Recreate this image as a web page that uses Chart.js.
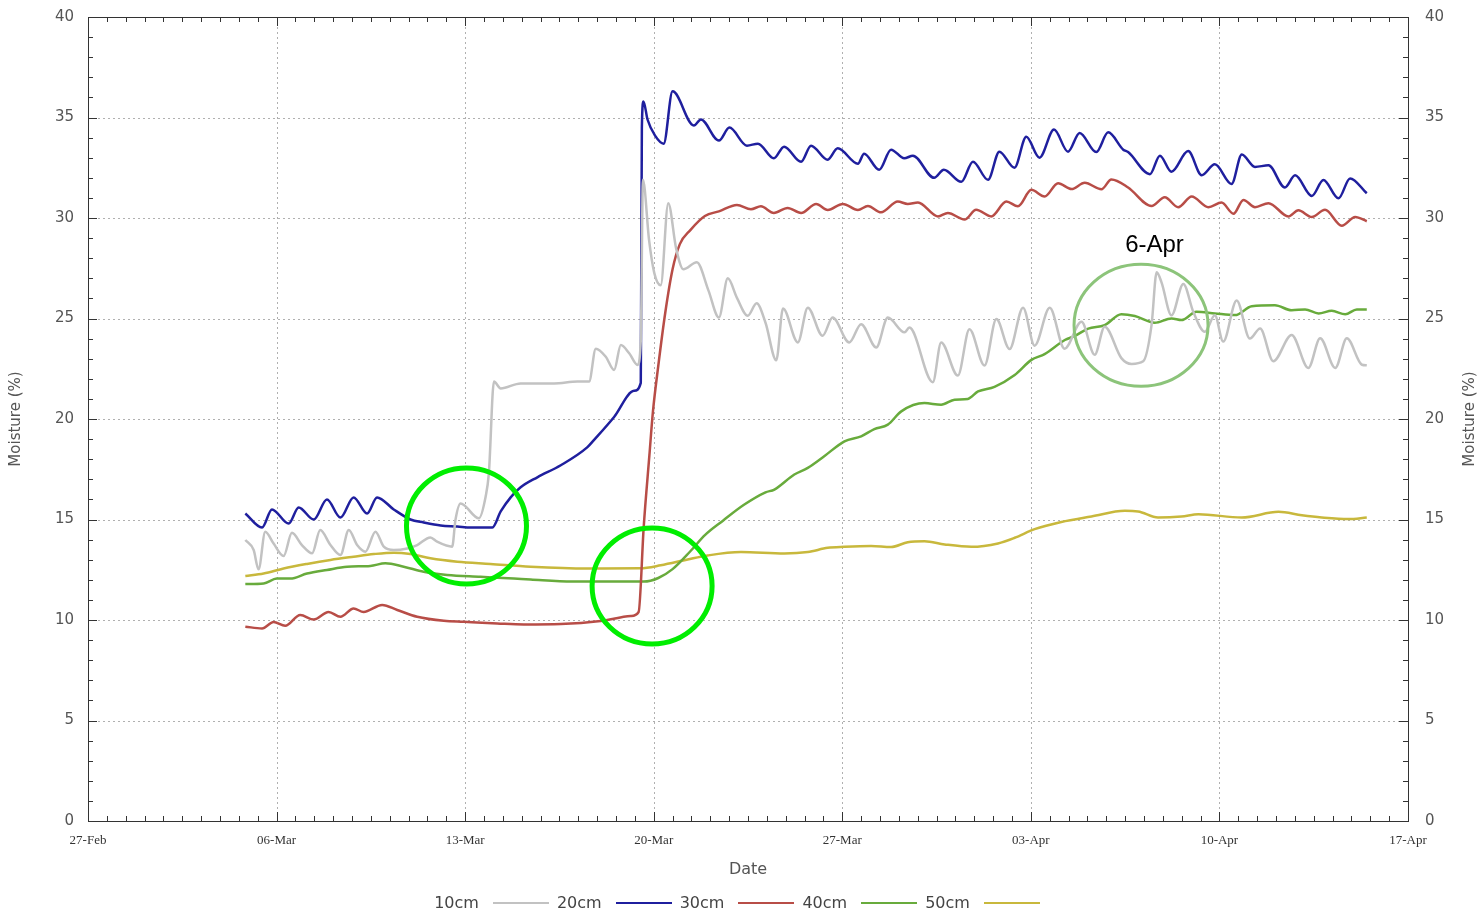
<!DOCTYPE html>
<html>
<head>
<meta charset="utf-8">
<script src="https://cdn.jsdelivr.net/npm/chart.js@4.4.1/dist/chart.umd.min.js"></script>
<style>
  html, body { margin: 0; padding: 0; background: #fff; }
  #wrap { position: relative; width: 1482px; height: 913px; }
  #myChart { display: block; }
  #legend { position: absolute; left: 0; top: 893px; width: 1482px; display: flex; justify-content: center;
            font: 16px "DejaVu Sans", sans-serif; color: #444; line-height: 20px; }
  #legend .item { display: flex; align-items: center; margin-right: 8px; }
  #legend .ln { display: inline-block; width: 56px; height: 2px; margin-left: 14px; }
</style>
</head>
<body>
<div id="wrap">
  <canvas id="myChart" width="1482" height="913"></canvas>
  <div id="legend"></div>
</div>
<script>
// days since 27-Feb, moisture %
const xLabels = ["27-Feb","06-Mar","13-Mar","20-Mar","27-Mar","03-Apr","10-Apr","17-Apr"];
const names = ["10cm","20cm","30cm","40cm","50cm"];
const colors = ["#c2c2c2","#1f1f9e","#b84d47","#68ab3c","#c8b83c"];

const d10 = [[5.84,13.98],[6.15,13.48],[6.33,12.52],[6.58,14.39],[6.89,13.8],[7.26,13.18],[7.57,14.34],[7.94,13.73],[8.32,13.32],[8.62,14.48],[9.0,13.73],[9.37,13.23],[9.68,14.48],[9.99,13.73],[10.3,13.4],[10.67,14.39],[10.98,13.65],[11.35,13.48],[11.85,13.56],[12.22,13.73],[12.71,14.11],[12.96,13.9],[13.52,13.65],[13.64,14.98],[13.83,15.8],[14.51,15.06],[14.76,16.13],[14.88,17.29],[15.07,21.86],[15.32,21.52],[16.06,21.77],[17.3,21.77],[18.17,21.86],[18.6,21.86],[18.85,23.5],[19.22,23.1],[19.53,22.44],[19.78,23.68],[20.09,23.27],[20.4,22.69],[20.52,23.9],[20.6,31.9],[20.83,28.87],[21.02,27.27],[21.26,26.65],[21.54,30.74],[21.83,28.5],[22.1,27.45],[22.6,27.8],[23.03,26.4],[23.42,25.05],[23.75,27.0],[24.09,26.03],[24.49,25.14],[24.82,25.76],[25.15,24.79],[25.55,22.92],[25.8,25.5],[26.35,23.81],[26.72,25.54],[27.27,24.14],[27.64,25.05],[28.26,23.81],[28.7,24.72],[29.26,23.56],[29.69,25.05],[30.31,24.31],[30.49,24.55],[31.36,21.83],[31.67,23.81],[32.29,22.16],[32.72,24.47],[33.28,22.66],[33.72,24.97],[34.21,23.48],[34.71,25.54],[35.14,23.65],[35.7,25.54],[36.25,23.5],[36.88,24.84],[37.37,23.2],[37.74,24.59],[38.36,23.03],[38.74,22.74],[39.17,22.87],[39.48,24.67],[39.67,27.3],[39.85,26.8],[40.22,25.16],[40.66,26.72],[41.03,25.33],[41.46,24.34],[41.83,25.16],[42.14,23.85],[42.64,25.9],[43.13,24.0],[43.51,24.5],[44.0,22.87],[44.68,24.18],[45.3,22.54],[45.74,24.02],[46.3,22.54],[46.73,24.02],[47.29,22.7],[47.47,22.67]];

const d20 = [[5.84,15.3],[6.46,14.6],[6.83,15.5],[7.45,14.8],[7.82,15.6],[8.38,15.0],[8.87,16.0],[9.37,15.1],[9.86,16.1],[10.36,15.3],[10.73,16.1],[11.35,15.5],[11.97,15.0],[12.46,14.85],[13.09,14.7],[13.71,14.65],[14.2,14.6],[15.01,14.6],[15.32,15.4],[15.69,16.1],[16.06,16.6],[16.68,17.1],[17.55,17.7],[18.54,18.6],[18.78,18.95],[19.53,20.1],[20.27,21.4],[20.52,21.8],[20.56,34.5],[20.62,35.8],[20.77,34.9],[21.05,34.1],[21.37,33.7],[21.7,36.3],[22.49,34.6],[22.75,34.9],[23.42,33.85],[23.81,34.5],[24.46,33.6],[24.87,33.7],[25.46,32.97],[25.84,33.55],[26.47,32.8],[26.84,33.6],[27.46,32.9],[27.83,33.47],[28.58,32.7],[28.81,33.2],[29.37,32.4],[29.81,33.4],[30.3,32.97],[30.62,33.1],[31.41,32.0],[31.77,32.4],[32.42,31.8],[32.85,32.8],[33.41,31.9],[33.83,33.3],[34.39,32.5],[34.83,34.04],[35.32,33.0],[35.86,34.4],[36.38,33.3],[36.81,34.23],[37.43,33.28],[37.87,34.26],[38.43,33.4],[38.61,33.28],[39.42,32.18],[39.79,33.1],[40.22,32.3],[40.84,33.33],[41.34,32.13],[41.83,32.67],[42.45,31.69],[42.83,33.16],[43.32,32.54],[43.82,32.62],[44.43,31.52],[44.81,32.13],[45.43,31.1],[45.86,31.89],[46.42,30.98],[46.85,31.97],[47.47,31.23]];

const d30 = [[5.84,9.67],[6.46,9.58],[6.89,9.9],[7.32,9.71],[7.88,10.25],[8.38,10.02],[8.93,10.4],[9.37,10.16],[9.86,10.57],[10.23,10.4],[10.92,10.75],[11.48,10.5],[12.22,10.16],[13.21,9.96],[13.95,9.91],[15.19,9.83],[16.18,9.78],[17.55,9.8],[19.03,9.95],[20.15,10.2],[20.44,10.4],[20.63,14.66],[20.84,18.2],[20.97,20.35],[21.17,22.65],[21.43,25.3],[21.7,27.45],[21.97,28.7],[22.36,29.4],[22.9,30.1],[23.42,30.33],[24.09,30.65],[24.61,30.44],[24.98,30.58],[25.46,30.25],[25.97,30.5],[26.47,30.25],[27.03,30.7],[27.46,30.4],[28.02,30.7],[28.58,30.4],[28.95,30.6],[29.44,30.28],[30.06,30.82],[30.43,30.7],[30.81,30.77],[31.55,30.08],[31.92,30.25],[32.54,29.92],[32.97,30.41],[33.53,30.08],[34.09,30.82],[34.52,30.58],[35.02,31.4],[35.51,31.07],[36.01,31.73],[36.51,31.44],[37.0,31.75],[37.62,31.43],[37.99,31.92],[38.61,31.52],[39.48,30.6],[39.97,31.03],[40.47,30.54],[40.97,31.07],[41.59,30.54],[42.08,30.77],[42.52,30.21],[42.89,30.9],[43.32,30.54],[43.82,30.74],[44.56,30.08],[44.93,30.38],[45.43,30.05],[45.92,30.41],[46.54,29.62],[47.04,30.05],[47.47,29.84]];

const d40 = [[5.84,11.79],[6.52,11.82],[7.01,12.06],[7.51,12.06],[8.13,12.31],[8.87,12.49],[9.62,12.65],[10.48,12.69],[11.04,12.82],[11.72,12.65],[12.46,12.4],[13.33,12.24],[14.57,12.15],[15.81,12.06],[16.43,12.01],[17.98,11.91],[20.63,11.91],[21.17,12.09],[21.7,12.53],[22.36,13.42],[22.9,14.22],[23.56,14.93],[24.35,15.73],[25.15,16.35],[25.48,16.49],[26.22,17.24],[26.72,17.57],[27.33,18.15],[28.08,18.89],[28.7,19.14],[29.19,19.5],[29.69,19.72],[30.19,20.38],[31.05,20.79],[31.67,20.71],[32.17,20.96],[32.66,21.0],[33.04,21.37],[33.65,21.6],[34.4,22.19],[35.02,22.94],[35.51,23.23],[36.26,23.93],[36.63,24.13],[37.13,24.5],[37.74,24.67],[38.36,25.21],[38.86,25.12],[39.6,24.79],[40.22,25.0],[40.59,24.92],[41.15,25.33],[41.83,25.25],[42.58,25.17],[43.2,25.61],[44.06,25.66],[44.68,25.41],[45.18,25.45],[45.68,25.25],[46.17,25.38],[46.67,25.21],[47.1,25.45],[47.47,25.45]];

const d50 = [[5.84,12.19],[6.52,12.31],[7.26,12.56],[8.13,12.79],[9.0,12.99],[9.86,13.15],[10.61,13.28],[11.35,13.35],[11.97,13.28],[12.71,13.07],[13.71,12.9],[14.94,12.79],[16.43,12.65],[18.54,12.56],[20.5,12.57],[21.26,12.72],[22.26,13.01],[23.0,13.21],[24.24,13.38],[25.85,13.31],[26.72,13.38],[27.46,13.59],[28.08,13.64],[29.07,13.68],[29.81,13.63],[30.43,13.87],[31.05,13.92],[31.8,13.76],[32.79,13.64],[33.78,13.81],[34.4,14.09],[35.14,14.52],[36.13,14.88],[37.25,15.15],[38.49,15.43],[38.98,15.4],[39.72,15.1],[40.59,15.15],[41.22,15.26],[42.83,15.1],[44.19,15.38],[45.06,15.21],[45.8,15.1],[46.79,15.02],[47.47,15.1]];

// highlight rings: [day, value, rx px, ry px, colour, width]
const rings = [[14.05,14.68,60,58,"#00ee00",5],[20.94,11.69,60,58,"#00ee00",5],[39.09,24.66,67,61,"#8cc47a",3]];
const note = ["6-Apr", 39.59, 28.66];

const series = [d10, d20, d30, d40, d50];
const toXY = a => a.map(p => ({x: p[0], y: p[1]}));

const sans = "'DejaVu Sans', sans-serif";

const decor = {
  id: "decor",
  beforeDatasetsDraw(chart) {
    const {ctx, chartArea: a, scales: {x, y}} = chart;
    ctx.save();
    ctx.strokeStyle = "#b0b0b0";
    ctx.lineWidth = 1;
    ctx.setLineDash([2, 3]);
    for (let v = 5; v < 40; v += 5) {
      const py = Math.round(y.getPixelForValue(v)) + 0.5;
      ctx.beginPath(); ctx.moveTo(a.left, py); ctx.lineTo(a.right, py); ctx.stroke();
    }
    for (let d = 7; d < 49; d += 7) {
      const px = Math.round(x.getPixelForValue(d)) + 0.5;
      ctx.beginPath(); ctx.moveTo(px, a.top); ctx.lineTo(px, a.bottom); ctx.stroke();
    }
    ctx.restore();
  },
  afterDatasetsDraw(chart) {
    const {ctx, chartArea: a, scales: {x, y}} = chart;
    ctx.save();
    ctx.strokeStyle = "#333";
    ctx.lineWidth = 1;
    ctx.strokeRect(a.left + 0.5, a.top + 0.5, a.right - a.left, a.bottom - a.top);
    // inward ticks
    for (let v = 0; v <= 40; v++) {
      const len = v % 5 === 0 ? 9 : 5;
      const py = Math.round(y.getPixelForValue(v)) + 0.5;
      ctx.beginPath();
      ctx.moveTo(a.left, py); ctx.lineTo(a.left + len, py);
      ctx.moveTo(a.right, py); ctx.lineTo(a.right - len, py);
      ctx.stroke();
    }
    for (let i = 0; i <= 70; i++) {
      const len = i % 10 === 0 ? 9 : 5;
      const px = Math.round(x.getPixelForValue(i * 0.7)) + 0.5;
      ctx.beginPath();
      ctx.moveTo(px, a.bottom); ctx.lineTo(px, a.bottom - len);
      ctx.moveTo(px, a.top); ctx.lineTo(px, a.top + len);
      ctx.stroke();
    }
    // rings
    rings.forEach(r => {
      ctx.beginPath();
      ctx.strokeStyle = r[4];
      ctx.lineWidth = r[5];
      ctx.ellipse(x.getPixelForValue(r[0]), y.getPixelForValue(r[1]), r[2], r[3], 0, 0, Math.PI * 2);
      ctx.stroke();
    });
    ctx.fillStyle = "#000";
    ctx.font = "24px 'Liberation Sans', Arial, sans-serif";
    ctx.textAlign = "center";
    ctx.textBaseline = "middle";
    ctx.fillText(note[0], x.getPixelForValue(note[1]), y.getPixelForValue(note[2]));
    // right axis title, reading bottom to top
    ctx.translate(1470, (a.top + a.bottom) / 2);
    ctx.rotate(-Math.PI / 2);
    ctx.fillStyle = "#555";
    ctx.font = "15px " + sans;
    ctx.fillText("Moisture (%)", 0, 0);
    ctx.restore();
  }
};

const ctx = document.getElementById("myChart");

new Chart(ctx, {
  type: "line",
  data: {
    datasets: series.map((s, i) => ({
      label: names[i],
      data: toXY(s),
      borderColor: colors[i],
      backgroundColor: colors[i],
      borderWidth: 2.5,
      pointRadius: 0,
      cubicInterpolationMode: "monotone",
      yAxisID: "y",
    })),
  },
  options: {
    responsive: false,
    animation: false,
    devicePixelRatio: 1,
    layout: { autoPadding: false, padding: { top: 17, left: 0, right: 0, bottom: 0 } },
    plugins: { legend: { display: false }, tooltip: { enabled: false } },
    scales: {
      x: {
        type: "linear",
        min: 0,
        max: 49,
        afterBuildTicks: s => { s.ticks = xLabels.map((l, i) => ({ value: i * 7 })); },
        afterFit: s => { s.height = 92; s.paddingLeft = 0; s.paddingRight = 0; },
        ticks: {
          callback: v => xLabels[Math.round(v / 7)],
          autoSkip: false,
          maxRotation: 0,
          padding: 12,
          color: "#333",
          font: { family: "'Liberation Serif', serif", size: 13 },
        },
        grid: { display: false, drawTicks: false },
        border: { display: false },
        title: { display: true, text: "Date", color: "#555", font: { family: sans, size: 16 }, padding: { top: 0, bottom: 34 } },
      },
      y: {
        position: "left",
        min: 0,
        max: 40,
        afterFit: s => { s.width = 88; s.paddingTop = 0; s.paddingBottom = 0; },
        ticks: { stepSize: 5, padding: 14, color: "#555", font: { family: sans, size: 15 } },
        grid: { display: false, drawTicks: false },
        border: { display: false },
        title: { display: true, text: "Moisture (%)", color: "#555", font: { family: sans, size: 15 }, padding: { top: 7, bottom: 0 } },
      },
      y2: {
        position: "right",
        min: 0,
        max: 40,
        afterFit: s => { s.width = 74; s.paddingTop = 0; s.paddingBottom = 0; },
        ticks: { stepSize: 5, padding: 17, color: "#555", font: { family: sans, size: 15 } },
        grid: { display: false, drawTicks: false },
        border: { display: false },
      },
    },
  },
  plugins: [decor],
});

const legend = document.getElementById("legend");
names.forEach((n, i) => {
  const item = document.createElement("span");
  item.className = "item";
  const t = document.createElement("span");
  t.textContent = n;
  const l = document.createElement("span");
  l.className = "ln";
  l.style.background = colors[i];
  item.appendChild(t);
  item.appendChild(l);
  legend.appendChild(item);
});
</script>
</body>
</html>
